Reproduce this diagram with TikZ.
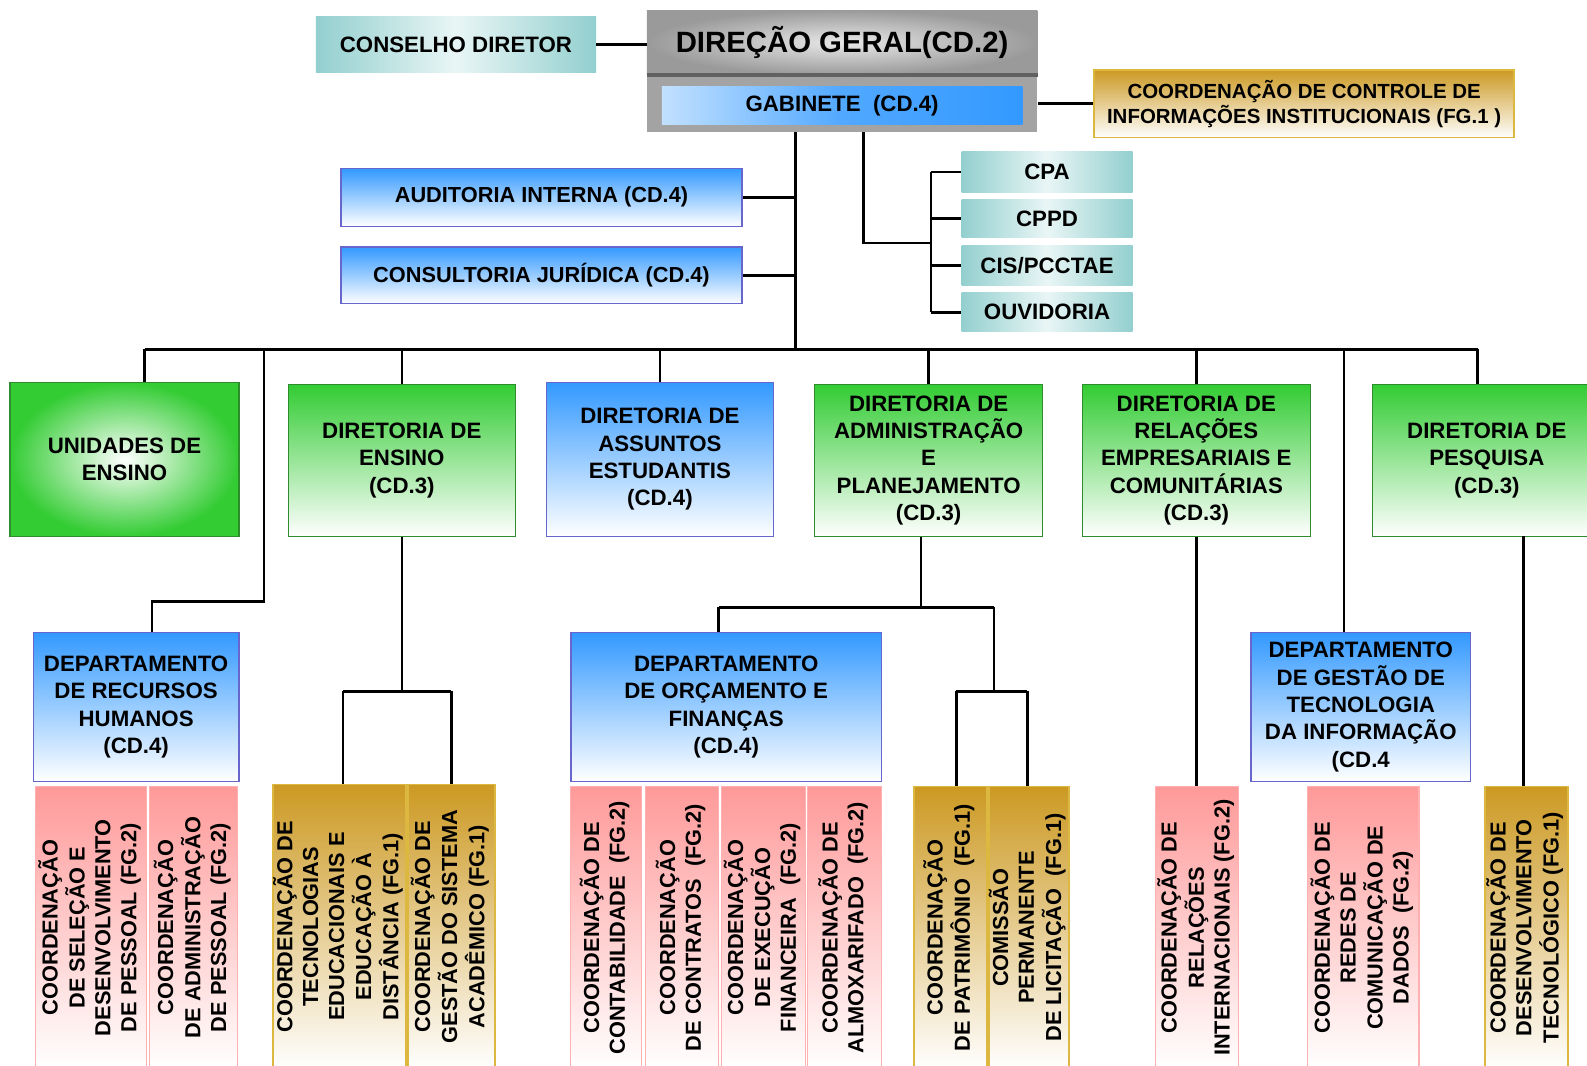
\documentclass[tikz,border=0pt]{standalone}
\usepackage{fontspec}
\setmainfont{Liberation Sans}
\usepackage{graphicx}
\definecolor{tealc}{HTML}{93CFCF}
\definecolor{bblue}{HTML}{3399FF}
\definecolor{bborder}{HTML}{6666CC}
\definecolor{ggreen}{HTML}{33CC33}
\definecolor{gborder}{HTML}{2E8B2E}
\definecolor{ppink}{HTML}{FF9999}
\definecolor{pborder}{HTML}{FFB0B0}
\definecolor{ggold}{HTML}{CC9922}
\definecolor{goborder}{HTML}{DDB840}
\definecolor{dgray}{HTML}{9A9A9A}
\definecolor{lgray}{HTML}{A3A3A3}
\newcommand{\vtxt}[1]{\rotatebox{90}{\begin{tabular}{@{}c@{}}#1\end{tabular}}}
\begin{document}
\begin{tikzpicture}[x=1pt,y=-1pt,
  box/.style={rectangle, inner sep=0pt, align=center, font=\bfseries\fontsize{22}{27}\selectfont},
  bluebox/.style={box, draw=bborder, line width=1.3pt, top color=bblue, bottom color=white},
  greenbox/.style={box, draw=gborder, line width=1.3pt, top color=ggreen, bottom color=white},
  pinkbox/.style={box, draw=pborder, line width=1.2pt, top color=ppink, bottom color=white, font=\bfseries\fontsize{21.5}{25.5}\selectfont},
  goldbox/.style={box, draw=goborder, line width=1.4pt, top color=ggold, bottom color=white, font=\bfseries\fontsize{21.5}{25.5}\selectfont},
  tealbox/.style={box, left color=tealc, right color=tealc, middle color=tealc!20},
  conn/.style={line width=2.6pt, black}]
\useasboundingbox (0,0) rectangle (1568,1053);
\fill[white] (0,0) rectangle (1568,1053);

% ---- top ----
\node[tealbox, minimum width=277, minimum height=56] (cons) at (450.5,44) {CONSELHO DIRETOR};
\node[box, inner color=gray!18, outer color=dgray, minimum width=386, minimum height=64,
      font=\bfseries\fontsize{29}{34}\selectfont] (dg) at (832,42) {DIREÇÃO GERAL(CD.2)};
\node[box, fill=lgray, minimum width=386, minimum height=56] (dgl) at (832,102) {};
\draw[line width=3.5pt, black!62] (dg.south west) -- (dg.south east);
\node[box, left color=bblue!30, right color=bblue, middle color=bblue!85, minimum width=356, minimum height=38] (gab) at (832,104) {GABINETE\ \ (CD.4)};
\node[box, draw=goborder, line width=1.5pt, top color=ggold, bottom color=white,
      minimum width=415, minimum height=67, font=\bfseries\fontsize{20.2}{25}\selectfont] (ccii) at (1288.5,102.5)
      {COORDENAÇÃO DE CONTROLE DE\\INFORMAÇÕES INSTITUCIONAIS (FG.1 )};

\node[tealbox, minimum width=169, minimum height=40] (cpa) at (1034.5,170) {CPA};
\node[tealbox, minimum width=169, minimum height=38] (cppd) at (1034.5,216) {CPPD};
\node[tealbox, minimum width=169, minimum height=39] (cis) at (1034.5,262.5) {CIS/PCCTAE};
\node[tealbox, minimum width=169, minimum height=39] (ouv) at (1034.5,308.5) {OUVIDORIA};

\node[bluebox, minimum width=396, minimum height=57, font=\bfseries\fontsize{21.5}{26}\selectfont] (aud) at (535,195) {AUDITORIA INTERNA (CD.4)};
\node[bluebox, minimum width=396, minimum height=56, font=\bfseries\fontsize{21.5}{26}\selectfont] (cjur) at (535,272) {CONSULTORIA JURÍDICA (CD.4)};

% ---- level 2 ----
\node[box, draw=gborder, line width=1.3pt, inner color=white, outer color=ggreen, minimum width=226, minimum height=152] (une) at (123,454) {UNIDADES DE\\ENSINO};
\node[greenbox, minimum width=224, minimum height=150] (den) at (397,455) {DIRETORIA DE\\ENSINO\\(CD.3)};
\node[bluebox, minimum width=224, minimum height=152] (dae) at (652,454) {DIRETORIA DE\\ASSUNTOS\\ESTUDANTIS\\(CD.4)};
\node[greenbox, minimum width=225, minimum height=150] (dap) at (917.5,455) {DIRETORIA DE\\ADMINISTRAÇÃO\\E\\PLANEJAMENTO\\(CD.3)};
\node[greenbox, minimum width=225, minimum height=150] (drec) at (1182,455) {DIRETORIA DE\\RELAÇÕES\\EMPRESARIAIS E\\COMUNITÁRIAS\\(CD.3)};
\node[greenbox, minimum width=226, minimum height=150] (dpq) at (1469,455) {DIRETORIA DE\\PESQUISA\\(CD.3)};

% ---- level 3 ----
\node[bluebox, minimum width=203, minimum height=147] (drh) at (134.5,698.5) {DEPARTAMENTO\\DE RECURSOS\\HUMANOS\\(CD.4)};
\node[bluebox, minimum width=307, minimum height=147] (dof) at (717.5,698.5) {DEPARTAMENTO\\DE ORÇAMENTO E\\FINANÇAS\\(CD.4)};
\node[bluebox, minimum width=217, minimum height=147] (dgti) at (1344.5,698.5) {DEPARTAMENTO\\DE GESTÃO DE\\TECNOLOGIA\\DA INFORMAÇÃO\\(CD.4};

% ---- bottom ----
\node[pinkbox, minimum width=110, minimum height=279] (c1) at (90,916.5) {\vtxt{COORDENAÇÃO\\DE SELEÇÃO E\\DESENVOLVIMENTO\\DE PESSOAL (FG.2)}};
\node[pinkbox, minimum width=87, minimum height=279] (c2) at (191.5,916.5) {\vtxt{COORDENAÇÃO\\DE ADMINISTRAÇÃO\\DE PESSOAL (FG.2)}};
\node[goldbox, minimum width=129, minimum height=281] (c3) at (335.5,915.5) {\vtxt{COORDENAÇÃO DE\\TECNOLOGIAS\\EDUCACIONAIS E\\EDUCAÇÃO À\\DISTÂNCIA (FG.1)}};
\node[goldbox, minimum width=86, minimum height=281] (c4) at (446,915.5) {\vtxt{COORDENAÇÃO DE\\GESTÃO DO SISTEMA\\ACADÊMICO (FG.1)}};
\node[pinkbox, minimum width=70, minimum height=279] (c5) at (599,916.5) {\vtxt{COORDENAÇÃO DE\\CONTABILIDADE\ \ (FG.2)}};
\node[pinkbox, minimum width=72, minimum height=279] (c6) at (674,916.5) {\vtxt{COORDENAÇÃO\\DE CONTRATOS\ \ (FG.2)}};
\node[pinkbox, minimum width=83, minimum height=279] (c7) at (754.5,916.5) {\vtxt{COORDENAÇÃO\\DE EXECUÇÃO\\FINANCEIRA\ \ (FG.2)}};
\node[pinkbox, minimum width=73, minimum height=279] (c8) at (834.5,916.5) {\vtxt{COORDENAÇÃO DE\\ALMOXARIFADO\ \ (FG.2)}};
\node[goldbox, minimum width=72, minimum height=279] (c9) at (939,916.5) {\vtxt{COORDENAÇÃO\\DE PATRIMÔNIO\ \ (FG.1)}};
\node[goldbox, minimum width=73, minimum height=279] (c10) at (1016.5,916.5) {\vtxt{COMISSÃO\\PERMANENTE\\DE LICITAÇÃO\ \ (FG.1)}};
\node[pinkbox, minimum width=82, minimum height=279] (c11) at (1183,916.5) {\vtxt{COORDENAÇÃO DE\\RELAÇÕES\\INTERNACIONAIS (FG.2)}};
\node[pinkbox, minimum width=110, minimum height=279] (c12) at (1347,916.5) {\vtxt{COORDENAÇÃO DE\\REDES DE\\COMUNICAÇÃO DE\\DADOS\ \ (FG.2)}};
\node[goldbox, minimum width=82, minimum height=279] (c13) at (1508,916.5) {\vtxt{COORDENAÇÃO DE\\DESENVOLVIMENTO\\TECNOLÓGICO (FG.1)}};

% ---- connectors ----
\coordinate (bar) at (786,345);
\coordinate (bL) at (143,345);
\coordinate (bR) at (1460,345);
\coordinate (b2) at (853,240);
\coordinate (brk) at (920,240);
\coordinate (k1) at (261,594);
\coordinate (k2) at (150,594);
\coordinate (k3) at (1328,345);
\coordinate (e1) at (397,683);
\coordinate (e2) at (339,683);
\coordinate (e3) at (446,683);
\coordinate (a1) at (910,600);
\coordinate (a2) at (710,600);
\coordinate (a3) at (982,600);
\coordinate (a4) at (982,683);
\coordinate (a5) at (945,683);
\coordinate (a6) at (1015,683);
\coordinate (p1) at (1505,530);

\draw[conn] (cons.east) -- (cons.east -| dg.west);
\draw[conn] (ccii.west -| dgl.east) -- (ccii.west);
\draw[conn] (dgl.south -| bar) -- (bar);
\draw[conn] (aud.east) -- (aud.east -| bar);
\draw[conn] (cjur.east) -- (cjur.east -| bar);
\draw[conn] (dgl.south -| b2) -- (b2) -- (brk);
\draw[conn] (cpa.west -| brk) -- (ouv.west -| brk);
\draw[conn] (cpa.west -| brk) -- (cpa.west);
\draw[conn] (cppd.west -| brk) -- (cppd.west);
\draw[conn] (cis.west -| brk) -- (cis.west);
\draw[conn] (ouv.west -| brk) -- (ouv.west);

\draw[conn] (bL) -- (bR);
\draw[conn] (bL) -- (bL |- une.north);
\draw[conn] (bR) -- (bR |- dpq.north);
\draw[conn] (den.north |- bar) -- (den.north);
\draw[conn] (dae.north |- bar) -- (dae.north);
\draw[conn] (dap.north |- bar) -- (dap.north);
\draw[conn] (drec.north |- bar) -- (drec.north);
\draw[conn] (k1 |- bar) -- (k1) -- (k2) -- (k2 |- drh.north);
\draw[conn] (k3) -- (k3 |- dgti.north);

\draw[conn] (den.south) -- (e1);
\draw[conn] (e2) -- (e3);
\draw[conn] (e2) -- (e2 |- c3.north);
\draw[conn] (e3) -- (e3 |- c4.north);

\draw[conn] (dap.south -| a1) -- (a1);
\draw[conn] (a2) -- (a3);
\draw[conn] (a2) -- (a2 |- dof.north);
\draw[conn] (a3) -- (a4);
\draw[conn] (a5) -- (a6);
\draw[conn] (a5) -- (a5 |- c9.north);
\draw[conn] (a6) -- (a6 |- c10.north);

\draw[conn] (drec.south) -- (drec.south |- c11.north);
\draw[conn] (p1) -- (p1 |- c13.north);
\end{tikzpicture}
\end{document}
